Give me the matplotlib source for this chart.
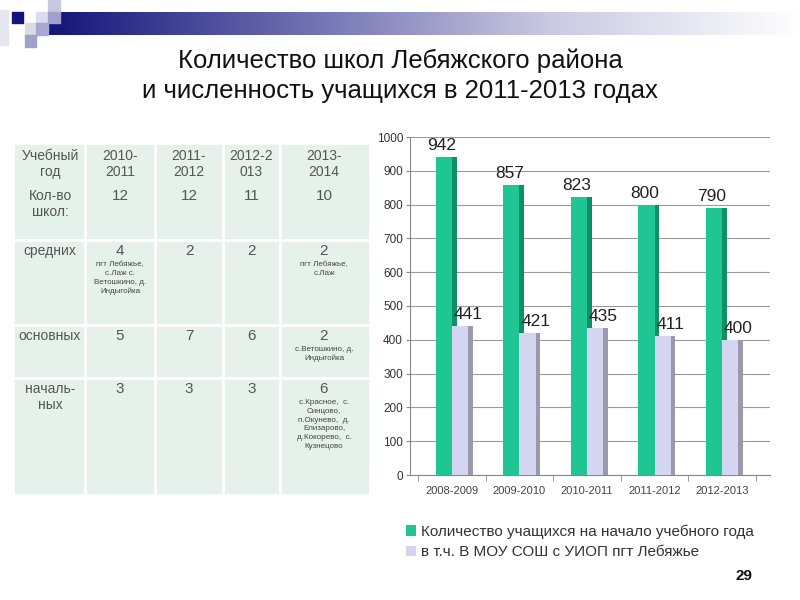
import numpy as np
import matplotlib.pyplot as plt
from matplotlib.patches import Rectangle
from matplotlib.colors import LinearSegmentedColormap

plt.rcParams['font.family'] = ['Liberation Sans', 'DejaVu Sans']

# chart data
years = ["2008-2009", "2009-2010", "2010-2011", "2011-2012", "2012-2013"]
students = [942, 857, 823, 800, 790]
students_lebyazhye = [441, 421, 435, 411, 400]
legend_labels = ["Количество учащихся на начало учебного года",
                 "в т.ч. В МОУ СОШ с УИОП пгт Лебяжье"]

# table data
table_header = ["Учебный\nгод", "2010-\n2011", "2011-\n2012", "2012-2\n013", "2013-\n2014"]
row_names = ["Кол-во\nшкол:", "средних", "основных", "началь-\nных"]
row_values = [["12", "12", "11", "10"],
              ["4", "2", "2", "2"],
              ["5", "7", "6", "2"],
              ["3", "3", "3", "6"]]
row_notes = [["", "", "", ""],
             ["пгт Лебяжье,\nс.Лаж с.\nВетошкино, д.\nИндыгойка", "", "", "пгт Лебяжье,\nс.Лаж"],
             ["", "", "", "с.Ветошкино, д.\nИндыгойка"],
             ["", "", "", "с.Красное,  с.\nСинцово,\nп.Окунево,  д.\nЕлизарово,\nд.Кокорево,  с.\nКузнецово"]]

title = "Количество школ Лебяжского района\nи численность учащихся в 2011-2013 годах"

fig = plt.figure(figsize=(8, 6), dpi=100)
bg = fig.add_axes([0, 0, 1, 1])
bg.set_xlim(0, 800)
bg.set_ylim(600, 0)
bg.axis("off")

# header band with gradient
grad = np.linspace(0, 1, 256).reshape(1, -1)
band_cmap = LinearSegmentedColormap.from_list("band", ["#14147a", "#6d6db0", "#c9c9e2", "#ffffff"])
bg.imshow(grad, cmap=band_cmap, extent=(48, 800, 35, 12), aspect="auto", zorder=1)
for (x0, y0, w, h, c) in [(0, 10, 8, 35, "#e6e6ee"), (12, 12, 11, 11, "#14147a"),
                          (48, 0, 12, 12, "#c8c8e0"), (36, 12, 12, 11, "#dcdcec"),
                          (48, 12, 12, 11, "#a0a0cc"), (25, 23, 11, 12, "#dcdce6"),
                          (36, 23, 12, 12, "#a8a8d0"), (25, 35, 11, 12, "#a0a0c8")]:
    bg.add_patch(Rectangle((x0, y0), w, h, color=c, zorder=2))

bg.text(400, 76, title, ha="center", va="center", fontsize=18.5, color="#111111",
        linespacing=1.3)

# table
col_x = [15, 85, 155, 223, 280, 368]
row_y = [145, 185, 240, 325, 378, 493]
bg.add_patch(Rectangle((col_x[0], row_y[0]), col_x[-1] - col_x[0], row_y[-1] - row_y[0],
                       color="#e5f2eb", zorder=1))
for x in col_x[1:-1]:
    bg.plot([x, x], [row_y[0], row_y[-1]], color="white", lw=2, zorder=2)
for y in row_y[2:-1]:
    bg.plot([col_x[0], col_x[-1]], [y, y], color="white", lw=2, zorder=2)
tc = "#555555"
for j, h in enumerate(table_header):
    cx = (col_x[j] + col_x[j + 1]) / 2
    bg.text(cx, 149, h, ha="center", va="top", fontsize=10, color=tc, linespacing=1.2)
for i, name in enumerate(row_names):
    ytop = row_y[i + 1] + 4
    bg.text((col_x[0] + col_x[1]) / 2, ytop, name, ha="center", va="top", fontsize=10,
            color=tc, linespacing=1.2)
    for j, v in enumerate(row_values[i]):
        cx = (col_x[j + 1] + col_x[j + 2]) / 2
        bg.text(cx, ytop, v, ha="center", va="top", fontsize=11, color=tc)
        if row_notes[i][j]:
            bg.text(cx, ytop + 17, row_notes[i][j], ha="center", va="top", fontsize=5.8,
                    color="#444444", linespacing=1.35)

# bar chart
ax = fig.add_axes([410 / 800, 1 - 475 / 600, 360 / 800, 338 / 600])
x = np.arange(len(years))
w = 0.24
sw = 0.07
green, green_side = "#1fc592", "#0f8f66"
lav, lav_side = "#d4d5f0", "#9a9aac"
ax.bar(x + sw / 2, students, sw, color=green_side, zorder=3)
ax.bar(x - w / 2, students, w, color=green, zorder=4, label=legend_labels[0])
ax.bar(x + w + sw / 2, students_lebyazhye, sw, color=lav_side, zorder=3)
ax.bar(x + w / 2, students_lebyazhye, w, color=lav, zorder=4, label=legend_labels[1])
for xi, v in zip(x, students):
    ax.text(xi - w / 2 - 0.03, v + 12, str(v), ha="center", va="bottom", fontsize=12.5,
            color="#222222")
for xi, v in zip(x, students_lebyazhye):
    ax.text(xi + w / 2 + 0.12, v + 12, str(v), ha="center", va="bottom", fontsize=12.5,
            color="#222222")

ax.set_xlim(-0.62, 4.71)
ax.set_ylim(0, 1000)
ax.set_yticks(range(0, 1001, 100))
ax.set_xticks(x)
ax.set_xticklabels(years)
ax.set_xticks(np.arange(-0.5, 4.6, 1), minor=True)
ax.tick_params(axis="x", which="major", length=0, labelsize=8, labelcolor="#444444", pad=8)
ax.tick_params(axis="x", which="minor", length=4, color="#888888")
ax.tick_params(axis="y", labelsize=8.5, labelcolor="#333333", length=3, color="#888888", pad=2)
ax.grid(axis="y", color="#9a9a9a", lw=0.8, zorder=0)
for s in ["top", "right"]:
    ax.spines[s].set_visible(False)
for s in ["left", "bottom"]:
    ax.spines[s].set_color("#888888")

ax.legend(loc="upper left", bbox_to_anchor=(392 / 800, 1 - 511 / 600),
          bbox_transform=fig.transFigure, frameon=False, fontsize=11,
          handlelength=0.7, handleheight=0.7, handletextpad=0.3, labelspacing=0.4,
          labelcolor="#333333")

bg.text(752, 576, "29", ha="right", va="center", fontsize=11, fontweight="bold", color="#111111")

fig.savefig("out.png", dpi=100)
